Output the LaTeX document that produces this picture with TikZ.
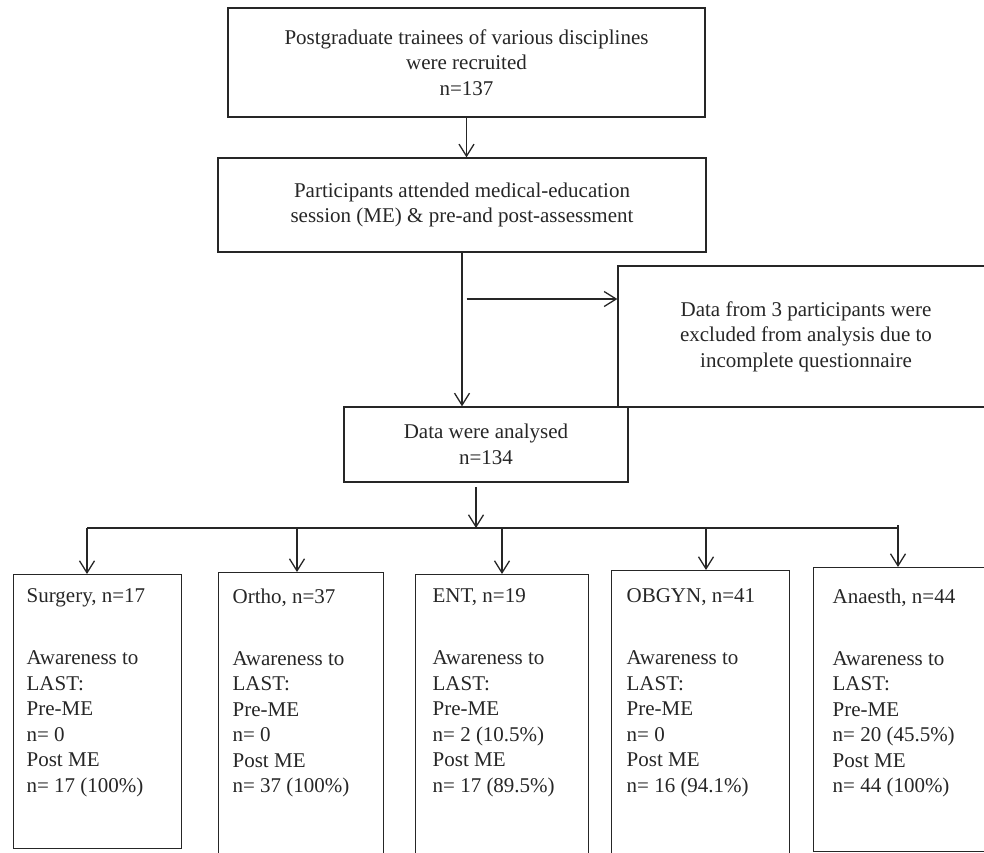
\documentclass[tikz,border=0pt]{standalone}
\usepackage{fontspec}
\setmainfont{Liberation Serif}
\usetikzlibrary{arrows.meta,positioning}

\tikzstyle{flowbox} = [draw, rectangle, align=center, inner sep=0pt]
\tikzstyle{deptbox} = [draw, rectangle, anchor=north west, inner sep=0pt]
\tikzstyle{depttext} = [align=left, inner sep=0pt]
\tikzstyle{arr} = [-{Straight Barb[length=12pt,width=15pt]}]

\begin{document}
\begin{tikzpicture}[x=1pt, y=1pt, line width=1.3pt, color=black!85,
    font=\fontsize{21}{25.5}\selectfont]
  \useasboundingbox (0,0) rectangle (984,-852);
  \clip (0,0) rectangle (984,-852);

  \node (recruit) [flowbox, minimum width=477pt, minimum height=109pt] at (466.5,-62.5)
    {Postgraduate trainees of various disciplines\\were recruited\\n=137};
  \node (session) [flowbox, minimum width=488pt, minimum height=94pt] at (462,-205)
    {Participants attended medical-education\\session (ME) \& pre-and post-assessment};
  \node (exclude) [flowbox, minimum width=376pt, minimum height=141pt] at (806,-336.5)
    {Data from 3 participants were\\excluded from analysis due to\\incomplete questionnaire};
  \node (analysed) [flowbox, minimum width=284pt, minimum height=75pt] at (486,-444.5)
    {Data were analysed\\n=134};

  % departments
  \node (surgery) [deptbox, minimum width=168pt, minimum height=274pt] at (13,-574) {};
  \node (ortho) [deptbox, minimum width=165pt, minimum height=290pt] at (218,-572) {};
  \node (ent) [deptbox, minimum width=173pt, minimum height=290pt] at (415,-574) {};
  \node (obgyn) [deptbox, minimum width=178pt, minimum height=290pt] at (611,-570) {};
  \node (anaesth) [deptbox, minimum width=180pt, minimum height=284pt] at (813,-567) {};

  \node (surgerytxt) [depttext, below right=14pt and 13pt of surgery.north west]
    {Surgery, n=17\\[36.5pt]Awareness to\\LAST:\\Pre-ME\\n= 0\\Post ME\\n= 17 (100\%)};
  \node (orthotxt) [depttext, below right=16pt and 14pt of ortho.north west]
    {Ortho, n=37\\[36.5pt]Awareness to\\LAST:\\Pre-ME\\n= 0\\Post ME\\n= 37 (100\%)};
  \node (enttxt) [depttext, below right=14pt and 17pt of ent.north west]
    {ENT, n=19\\[36.5pt]Awareness to\\LAST:\\Pre-ME\\n= 2 (10.5\%)\\Post ME\\n= 17 (89.5\%)};
  \node (obgyntxt) [depttext, below right=18pt and 15pt of obgyn.north west]
    {OBGYN, n=41\\[36.5pt]Awareness to\\LAST:\\Pre-ME\\n= 0\\Post ME\\n= 16 (94.1\%)};
  \node (anaesthtxt) [depttext, below right=21pt and 19pt of anaesth.north west]
    {Anaesth, n=44\\[36.5pt]Awareness to\\LAST:\\Pre-ME\\n= 20 (45.5\%)\\Post ME\\n= 44 (100\%)};

  \coordinate (split) at (466.5,-299);
  \coordinate (busin) at (476,-487);
  \coordinate (busL) at (87,-528);
  \coordinate (busR) at (898,-528);

  \draw [arr] (recruit.south) -- (recruit.south |- session.north);
  \draw [arr] (session.south) -- (session.south |- analysed.north);
  \draw [arr] (split) -- (split -| exclude.west);
  \draw [arr] (busin) -- (busin |- busL);
  \draw (busL) -- (busR) -- ++(0,3);
  \foreach \dept/\x in {surgery/87, ortho/297, ent/502, obgyn/706, anaesth/898} {
    \coordinate (drop\dept) at (\x,-528);
    \draw [arr] (drop\dept) -- (drop\dept |- \dept.north);
  }
\end{tikzpicture}
\end{document}
